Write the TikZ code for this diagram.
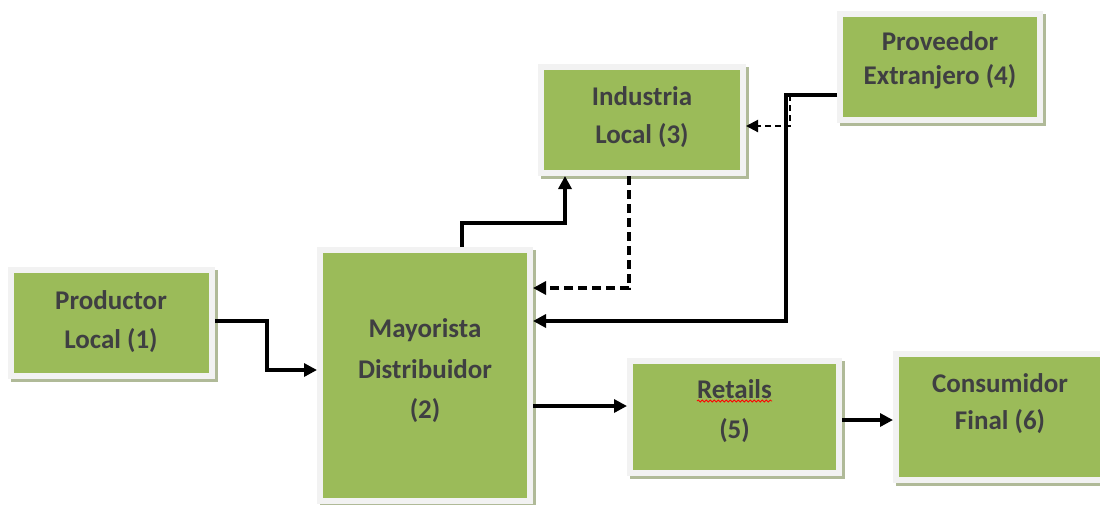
\documentclass[tikz,border=0pt]{standalone}
\usepackage{fontspec}
\setmainfont{Carlito}
\usetikzlibrary{arrows.meta,decorations.pathmorphing}
\definecolor{boxgreen}{HTML}{9BBB59}
\definecolor{boxrim}{HTML}{F2F2F2}
\definecolor{boxshade}{HTML}{B0BA98}
\definecolor{txt}{HTML}{3F3F42}
\begin{document}
\begin{tikzpicture}[x=1pt,y=-1pt,
  box/.style={rectangle, fill=boxgreen, draw=boxrim, line width=6pt, inner sep=0pt,
    preaction={draw=boxshade, fill=boxshade, line width=6pt, transform canvas={shift={(3pt,-3pt)}}}},
  lbl/.style={font=\bfseries\fontsize{27}{27}\selectfont, text=txt, anchor=base, inner sep=0pt},
  arr/.style={draw=black, line width=3.2pt, -{Triangle[length=13pt,width=13pt]}},
  dsh/.style={arr, dash pattern=on 9pt off 5pt},
  thindsh/.style={draw=black, line width=2.1pt, dash pattern=on 6pt off 4pt, -{Triangle[length=12pt,width=12pt]}}
]
\useasboundingbox[fill=white] (0,0) rectangle (1100,504);

% boxes
\node[box, minimum width=201pt, minimum height=106pt] (p1) at (111.5,323) {};
\node[box, minimum width=210pt, minimum height=251pt] (m2) at (425,375.5) {};
\node[box, minimum width=202pt, minimum height=106pt] (i3) at (642,120) {};
\node[box, minimum width=200pt, minimum height=106pt] (p4) at (940,67) {};
\node[box, minimum width=209pt, minimum height=112pt] (r5) at (734.5,417) {};
\node[box, minimum width=230pt, minimum height=126pt] (c6) at (1011,417) {};

% labels
\node[lbl] (t1a) at (111,309) {Productor};
\node[lbl] (t1b) at (111,348) {Local (1)};
\node[lbl] (t2a) at (425,337) {Mayorista};
\node[lbl] (t2b) at (425,378) {Distribuidor};
\node[lbl] (t2c) at (425,418) {(2)};
\node[lbl] (t3a) at (642,105) {Industria};
\node[lbl] (t3b) at (642,143) {Local (3)};
\node[lbl] (t4a) at (940,50) {Proveedor};
\node[lbl] (t4b) at (940,84) {Extranjero (4)};
\node[lbl] (t5a) at (734.5,398) {Retails};
\node[lbl] (t5b) at (734.5,438) {(5)};
\node[lbl] (t6a) at (1000,392) {Consumidor};
\node[lbl] (t6b) at (1000,429) {Final (6)};

\draw[red, line width=0.8pt, decorate, decoration={snake, amplitude=1pt, segment length=4pt}]
  ([yshift=-3pt]t5a.base west) -- ([yshift=-3pt]t5a.base east);

% connectors
\draw[arr] (p1.east |- 0,321) -- (267,321) -- (267,370) -- (m2.west |- 0,370);
\draw[arr] (m2.north -| 462,0) -- (462,223) -- (565,223) -- (i3.south -| 565,0);
\draw[dsh] (i3.south -| 629,0) -- (629,288) -- (m2.east |- 0,288);
\coordinate (br) at (790,95);
\draw[arr] (p4.west |- 0,95) -- (786,95) -- (786,321) -- (m2.east |- 0,321);
\draw[thindsh] (br) -- (790,126) -- (i3.east |- 0,126);
\draw[arr] (m2.east |- 0,406) -- (r5.west |- 0,406);
\draw[arr] (r5.east |- 0,420) -- (c6.west |- 0,420);
\end{tikzpicture}
\end{document}
